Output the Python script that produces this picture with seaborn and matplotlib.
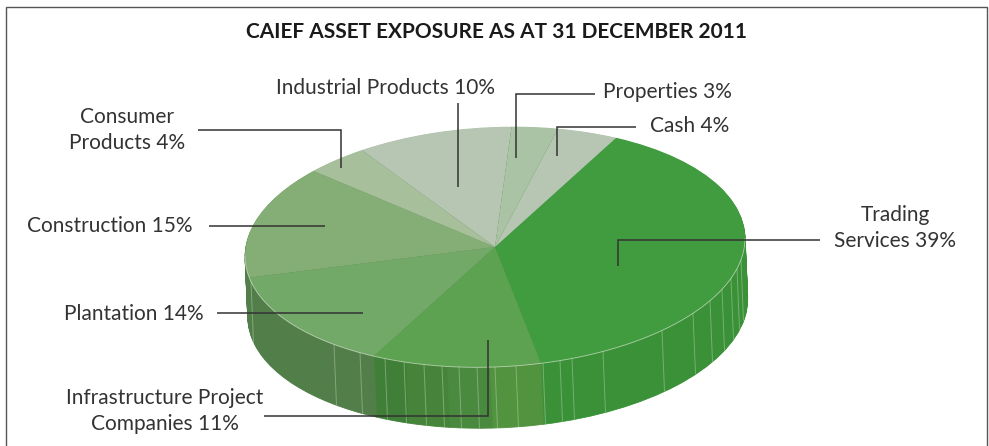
import numpy as np
import matplotlib
matplotlib.use("Agg")
import matplotlib.pyplot as plt
from matplotlib.transforms import Affine2D
import seaborn as sns

categories = ["Trading\nServices 39%", "Infrastructure Project\nCompanies 11%", "Plantation 14%",
              "Construction 15%", "Consumer\nProducts 4%", "Industrial Products 10%",
              "Properties 3%", "Cash 4%"]
values = [39, 11, 14, 15, 4, 10, 3, 4]
top_colors = ["#419c40", "#5da250", "#72a968", "#85ae76", "#a7c09b", "#b6c6b2", "#abc3a5", "#b6c6b2"]
side_colors = ["#3a9138", "#4f9142", "#527f49", "#527f49", "#527f49", "#527f49", "#527f49", "#3a9138"]
infra_side_shares = [0.3, 0.25, 0.25, 0.2]
infra_side_colors = ["#52933f", "#4a8a3f", "#468539", "#407f37"]
title = "CAIEF ASSET EXPOSURE AS AT 31 DECEMBER 2011"
seam_x = [251, 334, 360, 385, 404, 424, 442, 459, 477, 495, 516, 543, 560, 572, 603, 662, 693, 710, 722, 731, 737, 741]

W, H = 989, 446
CX, CY, RX, RY, DEPTH = 495.0, 247.0, 250.0, 120.0, 61
START = 61.0
SHEAR = 0.035 * RX / RY

sns.set_theme(style="white")
plt.rcParams["font.family"] = ["Lato", "DejaVu Sans"]

fig = plt.figure(figsize=(W / 100, H / 100), dpi=100, facecolor="white")
ax = fig.add_axes([0, 0, 1, 1])
x0, y0 = (0 - CX) / RX, (CY - H) / RY
x1, y1 = (W - CX) / RX, CY / RY


def px(x, y):
    return (x - CX) / RX, (CY - y) / RY


def tilted(y, u):
    return y + SHEAR * u


side_values = [values[0]] + [values[1] * s for s in infra_side_shares] + values[2:]
side_cols = [side_colors[0]] + infra_side_colors + side_colors[2:]

wedge_sets = []
for d in range(DEPTH, 0, -1):
    wedges, _ = ax.pie(side_values, colors=side_cols, startangle=START, counterclock=False,
                       center=(d * 0.045 / RX, -d / RY), radius=1.0, frame=True)
    for w, c in zip(wedges, side_cols):
        w.set_edgecolor(c)
        w.set_linewidth(0.6)
    wedge_sets.append(wedges)
top, _ = ax.pie(values, colors=top_colors, startangle=START, counterclock=False, center=(0, 0), radius=1.0,
                wedgeprops={"linewidth": 0}, frame=True)
wedge_sets.append(top)

ax.set_aspect("auto")
ax.set_xlim(x0, x1)
ax.set_ylim(y0, y1)
ax.set_axis_off()

shear = Affine2D.from_values(1, SHEAR, 0, 1, 0, 0) + ax.transData
for wedges in wedge_sets:
    for w in wedges:
        w.set_transform(shear)

# seams on the side wall and the light rim
for sx in seam_x:
    u = (sx - CX) / RX
    rim = tilted(-np.sqrt(1 - u * u), u)
    ax.plot([u, u + 0.01], [rim, rim - DEPTH / RY], color="#cfe0c8", lw=0.7, alpha=0.4, solid_capstyle="butt")
t = np.linspace(np.pi, 2 * np.pi, 300)
ax.plot(np.cos(t), tilted(np.sin(t), np.cos(t)), color="#dfe9da", lw=0.6, alpha=0.7)

# leader lines
leaders = [
    [(820, 240), (618, 240), (618, 266)],
    [(264, 416), (488, 416), (488, 340)],
    [(217, 313), (363, 313)],
    [(209, 226), (325, 226)],
    [(198, 129.5), (341, 129.5), (341, 168)],
    [(458, 103), (458, 187)],
    [(595, 93.5), (516, 93.5), (516, 158)],
    [(636, 127), (557, 127), (557, 156)],
]
for pts in leaders:
    xy = np.array([px(*p) for p in pts])
    ax.plot(xy[:, 0], xy[:, 1], color="#333333", lw=1.1, solid_joinstyle="miter", solid_capstyle="butt")

# labels
label_pos = [(895, 228), (165, 411), (134, 314), (109.5, 226), (127, 130), (385.5, 88), (667, 92), (689.5, 126)]
for text, (x, y) in zip(categories, label_pos):
    lx, ly = px(x, y)
    ax.text(lx, ly, text, ha="center", va="center", fontsize=15, color="#333333", linespacing=1.36)

tx, ty = px(496, 32)
ax.text(tx, ty, title, ha="center", va="center", fontsize=15, fontweight="bold", color="#1a1a1a")

# frame (open at the bottom)
frame = np.array([px(5.7, H), px(5.7, 6.7), px(986.7, 6.7), px(986.7, H)])
ax.plot(frame[:, 0], frame[:, 1], color="#555555", lw=1.0, solid_joinstyle="miter")

fig.savefig("out.png", dpi=100)
